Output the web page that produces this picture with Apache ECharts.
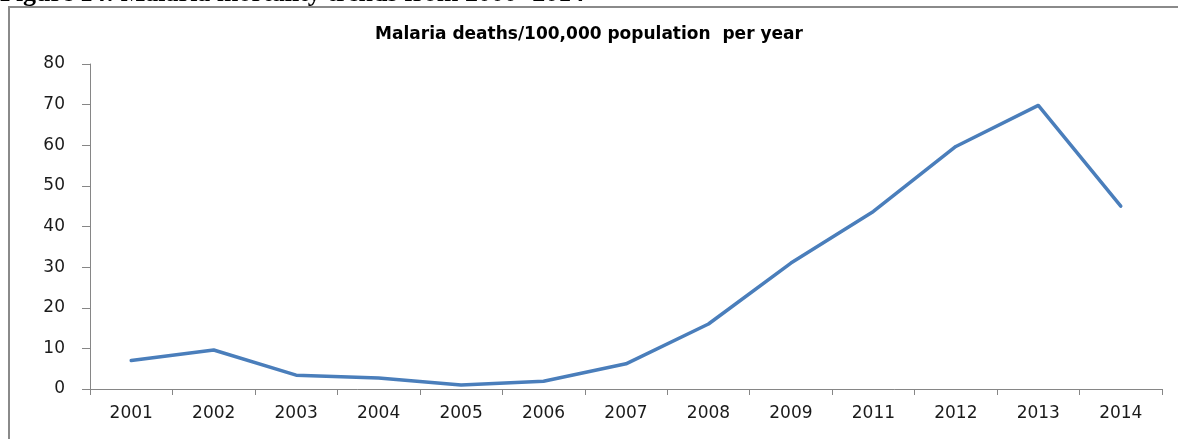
<!DOCTYPE html>
<html>
<head>
<meta charset="utf-8">
<script src="https://cdn.jsdelivr.net/npm/echarts@6/dist/echarts.min.js"></script>
<style>
  html, body { margin: 0; padding: 0; background: #fff; }
  #chart { width: 1178px; height: 439px; }
</style>
</head>
<body>
<div id="chart"></div>
<script>
// Malaria deaths per 100,000 population, by year
const years = ['2001', '2002', '2003', '2004', '2005', '2006', '2007', '2008', '2009', '2011', '2012', '2013', '2014'];
const deathsPer100k = [7.0, 9.6, 3.4, 2.7, 1.0, 1.9, 6.2, 16.0, 31.0, 43.7, 59.7, 69.8, 45.0];
const yTicks = { min: 0, max: 80, interval: 10 };

const chart = echarts.init(document.getElementById('chart'), null, { renderer: 'canvas' });

const axisGray = '#868686';
const labelFont = { fontFamily: 'DejaVu Sans', fontSize: 17, color: '#1a1a1a' };

chart.setOption({
  animation: false,
  backgroundColor: '#fff',
  title: {
    text: 'Malaria deaths/100,000 population  per year',
    left: 'center',
    top: 21,
    textStyle: { fontFamily: 'DejaVu Sans', fontWeight: 'bold', fontSize: 17, color: '#000' }
  },
  graphic: [
    {
      type: 'text',
      left: 0,
      top: -19,
      style: {
        text: 'Figure 14: Malaria mortality trends from 2000- 2014',
        font: 'bold 26px "Liberation Serif"',
        fill: '#000'
      }
    },
    {
      type: 'rect',
      shape: { x: 9, y: 7, width: 1200, height: 460 },
      style: { fill: 'none', stroke: '#8a8a8a', lineWidth: 2 }
    }
  ],
  grid: { left: 90, right: 16, top: 64, bottom: 50 },
  xAxis: {
    type: 'category',
    data: years,
    boundaryGap: true,
    axisLine: { lineStyle: { color: axisGray, width: 1 } },
    axisTick: { show: true, length: 6, lineStyle: { color: axisGray } },
    axisLabel: Object.assign({ margin: 16 }, labelFont),
    splitLine: { show: false }
  },
  yAxis: {
    type: 'value',
    min: yTicks.min,
    max: yTicks.max,
    interval: yTicks.interval,
    axisLine: { show: true, lineStyle: { color: axisGray, width: 1 } },
    axisTick: { show: true, length: 8, lineStyle: { color: axisGray } },
    axisLabel: Object.assign({ margin: 25 }, labelFont),
    splitLine: { show: false }
  },
  series: [{
    type: 'line',
    data: deathsPer100k,
    symbol: 'none',
    lineStyle: { color: '#4a7ebb', width: 3.5, cap: 'round', join: 'round' },
    itemStyle: { color: '#4a7ebb' }
  }]
});
</script>
</body>
</html>
